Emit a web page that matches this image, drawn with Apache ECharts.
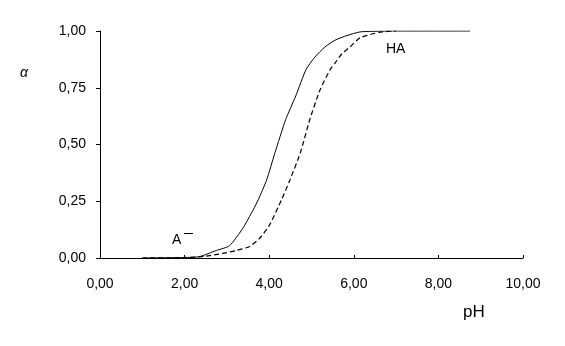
<!DOCTYPE html>
<html>
<head>
<meta charset="UTF-8">
<title>alpha vs pH</title>
<script src="https://cdn.jsdelivr.net/npm/echarts@6/dist/echarts.min.js"></script>
<style>
  html, body { margin: 0; padding: 0; background: #fff; }
  #main { width: 565px; height: 346px; }
</style>
</head>
<body>
<div id="main"></div>
<script>
// data
var xTicks = [0, 2, 4, 6, 8, 10];
var yTicks = [0, 0.25, 0.5, 0.75, 1];

var solidPH    = [1.0, 2.0, 2.35, 2.75, 3.06, 3.38, 3.62, 3.74, 3.94, 4.13, 4.39, 4.63, 4.87, 5.08, 5.32, 5.56, 5.84, 6.15, 6.6, 7.0, 8.0, 8.75];
var solidAlpha = [0, 0.002, 0.006, 0.033, 0.054, 0.132, 0.212, 0.256, 0.344, 0.46, 0.61, 0.715, 0.83, 0.885, 0.93, 0.96, 0.98, 0.996, 0.999, 1, 1, 1];

var dashPH    = [1.0, 2.0, 2.5, 2.9, 3.22, 3.54, 3.78, 4.01, 4.29, 4.49, 4.73, 4.96, 5.2, 5.44, 5.56, 5.72, 5.91, 6.15, 6.62, 7.0];
var dashAlpha = [0, 0.002, 0.008, 0.02, 0.033, 0.051, 0.088, 0.146, 0.256, 0.344, 0.46, 0.61, 0.74, 0.83, 0.86, 0.90, 0.93, 0.97, 0.995, 1.0];

function pairs(xs, ys) {
  var out = [];
  for (var i = 0; i < xs.length; i++) out.push([xs[i], ys[i]]);
  return out;
}
function comma(v) { return v.toFixed(2).replace('.', ','); }

var font = 'Liberation Sans, Arial, sans-serif';
var chart = echarts.init(document.getElementById('main'));
chart.setOption({
  animation: false,
  grid: { left: 100, right: 42, top: 31, bottom: 88 },
  xAxis: {
    type: 'value',
    min: xTicks[0], max: xTicks[xTicks.length - 1], interval: 2,
    axisLine: { lineStyle: { color: '#000', width: 1 } },
    axisTick: { inside: true, length: 3, lineStyle: { color: '#000' } },
    axisLabel: { formatter: comma, color: '#000', fontFamily: font, fontSize: 14, margin: 19 },
    splitLine: { show: false }
  },
  yAxis: {
    type: 'value',
    min: yTicks[0], max: yTicks[yTicks.length - 1], interval: 0.25,
    axisLine: { show: true, lineStyle: { color: '#000', width: 1 } },
    axisTick: { show: true, length: 4, lineStyle: { color: '#000' } },
    axisLabel: { formatter: comma, color: '#000', fontFamily: font, fontSize: 14, margin: 14 },
    splitLine: { show: false }
  },
  series: [
    {
      name: 'solid', type: 'line', data: pairs(solidPH, solidAlpha),
      showSymbol: false, smooth: 0.2,
      lineStyle: { color: '#000', width: 1 }
    },
    {
      name: 'dashed', type: 'line', data: pairs(dashPH, dashAlpha),
      showSymbol: false, smooth: 0.2,
      lineStyle: { color: '#000', width: 1.2, type: [5, 3] }
    }
  ],
  graphic: [
    { type: 'text', left: 20, top: 66, style: { text: 'α', font: 'italic 14px ' + font, fill: '#000' } },
    { type: 'text', left: 463, top: 304, style: { text: 'pH', font: '17px ' + font, fill: '#000' } },
    { type: 'text', left: 386, top: 42, style: { text: 'HA', font: '14px ' + font, fill: '#000' } },
    { type: 'text', left: 172, top: 233, style: { text: 'A', font: '14px ' + font, fill: '#000' } },
    { type: 'line', shape: { x1: 184, y1: 233.5, x2: 193, y2: 233.5 }, style: { stroke: '#000', lineWidth: 1 } }
  ]
});
</script>
</body>
</html>
